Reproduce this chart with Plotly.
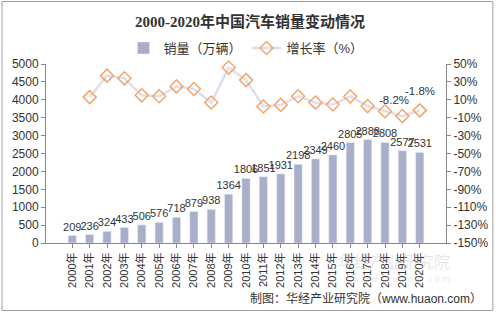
import plotly.graph_objects as go

years = [f"{y}年" for y in range(2000, 2021)]
sales = [209, 236, 324, 433, 506, 576, 718, 879, 938, 1364, 1806, 1851, 1931, 2198, 2349, 2460, 2805, 2888, 2808, 2577, 2531]
growth = [None, 13.0, 37.0, 34.0, 15.0, 14.0, 25.0, 22.0, 7.0, 46.0, 32.0, 2.5, 4.3, 13.9, 6.9, 4.7, 13.7, 3.0, -2.8, -8.2, -1.8]
labeled_points = [19, 20]
label_shift = {19: (-8, 16), 20: (0, 19)}

left_ticks = list(range(0, 5001, 500))
right_ticks = list(range(-150, 51, 20))
right_ticktext = [f"{v}%" for v in right_ticks]

font_cjk = "Liberation Sans, Noto Sans CJK SC, sans-serif"

fig = go.Figure()
fig.add_trace(go.Bar(
    x=years, y=sales, name="销量（万辆）",
    marker=dict(color="#A9AFC8"),
    text=[str(v) for v in sales], textposition="outside", constraintext="none",
    textfont=dict(size=11, color="#333333", family=font_cjk),
    cliponaxis=False,
))
fig.add_trace(go.Scatter(
    x=years, y=growth, name="增长率（%）", yaxis="y2",
    mode="lines+markers",
    line=dict(color="#DCE0EA", width=2.5),
    marker=dict(symbol="diamond-open", size=10, color="#F5A46A", line=dict(width=1.5, color="#F5A46A")),
    cliponaxis=False,
))

W, H = 500, 313
ml, mr, mt, mb = 46, 49, 64, 70
pw, ph = W - ml - mr, H - mt - mb

def px(x):
    return (x - ml) / pw

def py(y):
    return (H - mb - y) / ph

annotations = [
    dict(text="制图：华经产业研究院（www.huaon.com）", xref="paper", yref="paper",
         x=px(489), y=py(298), xanchor="right", yanchor="middle", showarrow=False,
         font=dict(size=12, color="#333333", family=font_cjk)),
    dict(text="华经产业研究院", xref="paper", yref="paper",
         x=px(398), y=py(262), xanchor="center", yanchor="middle", showarrow=False,
         font=dict(size=16, color="rgba(200,200,210,0.45)", family=font_cjk)),
    dict(text="w w w . h u a o n . c o m", xref="paper", yref="paper",
         x=px(405), y=py(279), xanchor="center", yanchor="middle", showarrow=False,
         font=dict(size=9, color="rgba(200,200,210,0.45)", family=font_cjk)),
]
for i in labeled_points:
    dx, dy = label_shift[i]
    annotations.append(dict(
        text=f"{growth[i]}%", x=years[i], y=growth[i], xref="x", yref="y2",
        xshift=dx, yshift=dy, showarrow=False, xanchor="center", yanchor="middle",
        font=dict(size=11.5, color="#333333", family=font_cjk)))

fig.update_layout(
    width=W, height=H,
    margin=dict(l=ml, r=mr, t=mt, b=mb),
    paper_bgcolor="white", plot_bgcolor="white",
    bargap=0.53,
    showlegend=True,
    legend=dict(orientation="h", x=0.5, xanchor="center", y=py(48), yanchor="middle",
                font=dict(size=13, color="#333333", family=font_cjk),
                itemwidth=30, bgcolor="rgba(0,0,0,0)"),
    title=dict(text="<b>2000-2020年中国汽车销量变动情况</b>", x=0.5, xanchor="center",
               y=1 - 22 / H, yanchor="middle",
               font=dict(size=15, color="#333333", family="Liberation Serif, Noto Sans CJK SC, serif")),
    xaxis=dict(type="category", tickangle=-90, showgrid=False,
               showline=True, linecolor="#888888", linewidth=1,
               ticks="outside", ticklen=4, tickcolor="#888888",
               tickfont=dict(size=11, color="#333333", family=font_cjk)),
    yaxis=dict(range=[0, 5000], tickvals=left_ticks, showgrid=False,
               showline=True, linecolor="#888888", linewidth=1,
               ticks="outside", ticklen=4, tickcolor="#888888",
               tickfont=dict(size=12, color="#333333", family=font_cjk), zeroline=False),
    yaxis2=dict(range=[-150, 50], tickvals=right_ticks, ticktext=right_ticktext,
                overlaying="y", side="right", showgrid=False,
                showline=True, linecolor="#888888", linewidth=1,
                ticks="outside", ticklen=4, tickcolor="#888888",
                tickfont=dict(size=12, color="#333333", family=font_cjk), zeroline=False),
    shapes=[dict(type="rect", xref="paper", yref="paper",
                 x0=px(1.5), x1=px(498.5), y0=py(1.5), y1=py(310.5),
                 line=dict(color="#A0A0A0", width=1), layer="below")],
    annotations=annotations,
)

fig.write_html("out.html")
